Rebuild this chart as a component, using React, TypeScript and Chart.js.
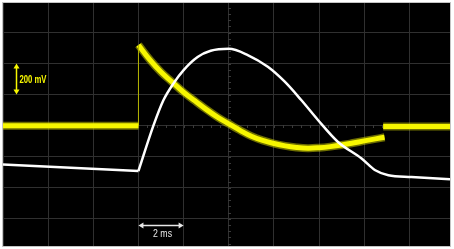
import { useEffect, useRef } from "react";
import { Chart, registerables } from "chart.js";

Chart.register(...registerables);

// ---- Data (time in ms, voltage in mV) ----
// Yellow channel (noisy measured trace)
const yellowBaseT = [-6, 0];
const yellowBaseV = [0, 0];
const yellowJumpT = [0, 0];
const yellowJumpV = [0, 520];
const yellowDecayT = [0, 0.5, 1.0, 1.5, 2.0, 2.5, 3.0, 3.5, 4.0, 4.5, 5.0, 5.5, 6.0, 6.5, 7.0, 7.5, 8.0, 8.5, 9.0, 9.5, 10.0, 10.5, 10.9];
const yellowDecayV = [520, 425, 345, 280, 215, 160, 105, 55, 12, -30, -68, -95, -115, -130, -140, -145, -142, -135, -125, -112, -98, -85, -75];
const yellowTailT = [10.84, 13.8];
const yellowTailV = [-5, -5];

// White channel (smooth trace)
const whiteLeadT = [-6, 0];
const whiteLeadV = [-250, -292];
const whiteCurveT = [0, 0.67, 1.11, 1.56, 2.0, 2.62, 3.2, 4.0, 4.84, 5.73, 6.48, 7.21, 7.96, 8.84, 9.87, 10.49, 11.07, 12.09, 13.8];
const whiteCurveV = [-292, 3, 165, 274, 358, 442, 482, 495, 455, 379, 283, 165, 35, -105, -210, -287, -319, -330, -345];

// Grid / axis settings
const xMin = -6;
const xMax = 13.8;
const yMin = -775;
const yMax = 790;
const xGridTicks = [-6, -4, -2, 0, 2, 4, 6, 8, 10, 12];
const yGridTicks = [-600, -400, -200, 0, 200, 400, 600];
const centerT = 4;
const centerV = 0;
const minorStepT = 0.4;
const minorStepV = 40;

// Annotations
const voltLabel = "200 mV";
const voltArrowT = -5.43;
const voltArrowFrom = 200;
const voltArrowTo = 400;
const timeLabel = "2 ms";
const timeArrowV = -642;
const timeArrowFrom = 0;
const timeArrowTo = 2;

const zip = (ts: number[], vs: number[]) => ts.map((t, i) => ({ x: t, y: vs[i] }));

const YELLOW = "#f7f700";
const YELLOW_EDGE = "rgba(200,200,0,0.55)";

function arrowHead(ctx: CanvasRenderingContext2D, x: number, y: number, dx: number, dy: number, len: number, half: number) {
  const bx = x - dx * len;
  const by = y - dy * len;
  ctx.beginPath();
  ctx.moveTo(x, y);
  ctx.lineTo(bx - dy * half, by + dx * half);
  ctx.lineTo(bx + dy * half, by - dx * half);
  ctx.closePath();
  ctx.fill();
}

function doubleArrow(ctx: CanvasRenderingContext2D, x1: number, y1: number, x2: number, y2: number, color: string) {
  const L = Math.hypot(x2 - x1, y2 - y1);
  const dx = (x2 - x1) / L;
  const dy = (y2 - y1) / L;
  const len = 5;
  ctx.save();
  ctx.strokeStyle = color;
  ctx.fillStyle = color;
  ctx.lineWidth = 1.5;
  ctx.beginPath();
  ctx.moveTo(x1 + dx * (len - 1), y1 + dy * (len - 1));
  ctx.lineTo(x2 - dx * (len - 1), y2 - dy * (len - 1));
  ctx.stroke();
  arrowHead(ctx, x2, y2, dx, dy, len, 3);
  arrowHead(ctx, x1, y1, -dx, -dy, len, 3);
  ctx.restore();
}

function squeezedText(ctx: CanvasRenderingContext2D, text: string, x: number, baseline: number, font: string, color: string, width: number, align: "left" | "center") {
  ctx.save();
  ctx.font = font;
  ctx.fillStyle = color;
  ctx.textBaseline = "alphabetic";
  ctx.textAlign = "left";
  const w = ctx.measureText(text).width;
  const s = width / w;
  const left = align === "center" ? x - width / 2 : x;
  ctx.translate(left, baseline);
  ctx.scale(s, 1);
  ctx.fillText(text, 0, 0);
  ctx.restore();
}

const scopePlugin = {
  id: "scope",
  beforeDraw(chart: any) {
    const { ctx, chartArea: a } = chart;
    ctx.save();
    ctx.fillStyle = "#ffffff";
    ctx.fillRect(0, 0, chart.width, chart.height);
    ctx.fillStyle = "#000000";
    ctx.fillRect(a.left, a.top, a.right - a.left, a.bottom - a.top);
    ctx.restore();
  },
  beforeDatasetsDraw(chart: any) {
    const { ctx } = chart;
    const xs = chart.scales.x;
    const ys = chart.scales.y;
    const cx = Math.round(xs.getPixelForValue(centerT)) + 0.5;
    const cy = Math.round(ys.getPixelForValue(centerV)) + 0.5;
    ctx.save();
    ctx.strokeStyle = "#3a3a3a";
    ctx.lineWidth = 1;
    ctx.beginPath();
    for (let t = xMin; t <= xMax + 1e-9; t += minorStepT) {
      const px = Math.round(xs.getPixelForValue(t)) + 0.5;
      ctx.moveTo(px, cy - 1.5);
      ctx.lineTo(px, cy + 1.5);
    }
    for (let v = -760; v <= yMax; v += minorStepV) {
      const py = Math.round(ys.getPixelForValue(v)) + 0.5;
      ctx.moveTo(cx - 1.5, py);
      ctx.lineTo(cx + 1.5, py);
    }
    ctx.stroke();
    ctx.restore();
  },
  afterDraw(chart: any) {
    const { ctx, chartArea: a } = chart;
    const xs = chart.scales.x;
    const ys = chart.scales.y;
    ctx.save();
    ctx.strokeStyle = "#c4c4c4";
    ctx.lineWidth = 1;
    ctx.strokeRect(a.left - 0.5, a.top - 0.5, a.right - a.left + 1, a.bottom - a.top + 1);
    ctx.restore();

    // 200 mV marker
    const vx = Math.round(xs.getPixelForValue(voltArrowT)) + 0.5;
    const vy1 = ys.getPixelForValue(voltArrowTo);
    const vy2 = ys.getPixelForValue(voltArrowFrom);
    doubleArrow(ctx, vx, vy1, vx, vy2, YELLOW);
    squeezedText(ctx, voltLabel, vx + 3, (vy1 + vy2) / 2 + 3.5, "bold 10.5px 'Liberation Sans', Arial, sans-serif", YELLOW, 27, "left");

    // 2 ms marker
    const ty = Math.round(ys.getPixelForValue(timeArrowV)) + 0.5;
    const tx1 = xs.getPixelForValue(timeArrowFrom);
    const tx2 = xs.getPixelForValue(timeArrowTo);
    doubleArrow(ctx, tx1, ty, tx2, ty, "#e8e8e8");
    squeezedText(ctx, timeLabel, (tx1 + tx2) / 2 + 1.5, ty + 11.5, "10px 'Liberation Sans', Arial, sans-serif", "#e8e8e8", 19, "center");
  },
};

export default function App() {
  const ref = useRef<HTMLCanvasElement | null>(null);

  useEffect(() => {
    if (!ref.current) return;
    const thick = (data: { x: number; y: number }[], color: string, width: number, order: number, tension = 0) => ({
      data,
      borderColor: color,
      borderWidth: width,
      pointRadius: 0,
      tension,
      borderCapStyle: "butt",
      borderJoinStyle: "round",
      order,
      clip: 0,
    });
    const chart = new Chart(ref.current, {
      type: "line",
      data: {
        datasets: [
          // white trace (top)
          { ...thick(zip(whiteLeadT, whiteLeadV), "#ffffff", 2.5, 0) },
          { ...thick(zip(whiteCurveT, whiteCurveV), "#ffffff", 2.5, 0), cubicInterpolationMode: "monotone" },
          // yellow main
          { ...thick(zip(yellowBaseT, yellowBaseV), YELLOW, 5, 1) },
          { ...thick(zip(yellowJumpT, yellowJumpV), "#b4b400", 1, 1) },
          { ...thick(zip(yellowDecayT, yellowDecayV), YELLOW, 5, 1, 0.4) },
          { ...thick(zip(yellowTailT, yellowTailV), YELLOW, 5, 1) },
          // yellow fuzzy edges
          { ...thick(zip(yellowBaseT, yellowBaseV), YELLOW_EDGE, 8, 2) },
          { ...thick(zip(yellowDecayT, yellowDecayV), YELLOW_EDGE, 8, 2, 0.4) },
          { ...thick(zip(yellowTailT, yellowTailV), YELLOW_EDGE, 8, 2) },
        ] as any,
      },
      options: {
        animation: false,
        responsive: false,
        maintainAspectRatio: false,
        devicePixelRatio: 1,
        layout: { padding: { left: 3, top: 3, right: 4, bottom: 3 } },
        plugins: {
          legend: { display: false },
          tooltip: { enabled: false },
        },
        scales: {
          x: {
            type: "linear",
            min: xMin,
            max: xMax,
            ticks: { display: false },
            grid: { color: "#303030", drawTicks: false, lineWidth: 1 },
            border: { display: false },
            afterBuildTicks: (scale: any) => {
              scale.ticks = xGridTicks.map((v) => ({ value: v }));
            },
          },
          y: {
            type: "linear",
            min: yMin,
            max: yMax,
            ticks: { display: false },
            grid: { color: "#303030", drawTicks: false, lineWidth: 1 },
            border: { display: false },
            afterBuildTicks: (scale: any) => {
              scale.ticks = yGridTicks.map((v) => ({ value: v }));
            },
          },
        },
      } as any,
      plugins: [scopePlugin],
    });
    return () => chart.destroy();
  }, []);

  return (
    <div style={{ position: "absolute", left: 0, top: 0, width: 454, height: 249 }}>
      <canvas ref={ref} width={454} height={249} style={{ display: "block" }} />
    </div>
  );
}
